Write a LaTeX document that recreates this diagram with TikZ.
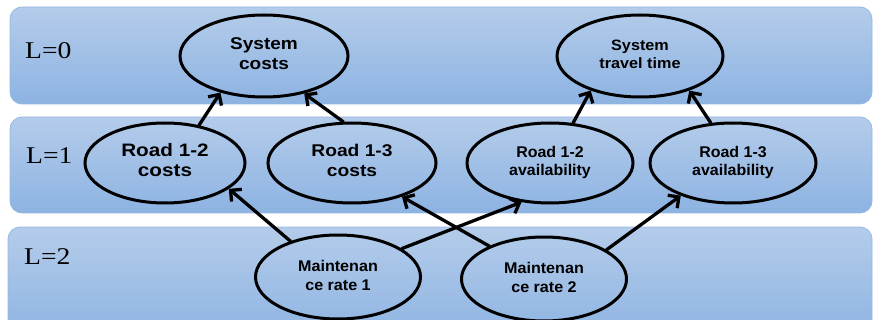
\documentclass[tikz,border=0pt]{standalone}
\usepackage{graphicx}
\usepackage{fontspec}
\setmainfont{Liberation Sans}
\newfontfamily\tnr{Liberation Serif}
\usetikzlibrary{arrows.meta}
\definecolor{bandtop}{RGB}{180,204,234}
\definecolor{bandbot}{RGB}{141,179,226}
\definecolor{bandedge}{RGB}{150,184,226}
\newcommand\twol[3]{\scalebox{#1}[1]{\begin{tabular}{@{}c@{}}#2\\#3\end{tabular}}}
\tikzset{
  band/.style={rounded corners=12pt, top color=bandtop, bottom color=bandbot, draw=bandedge, line width=0.8pt},
  ell/.style={ellipse, draw=black, line width=3pt, inner sep=0pt, fill=none},
  lvl/.style={anchor=base west, inner sep=0pt, font=\tnr\fontsize{24}{28}\selectfont},
  conn/.style={line width=3.3pt, -{Straight Barb[length=8pt,width=16pt,line width=3.3pt]}, line cap=round}
}
\usetikzlibrary{shapes.geometric}
\begin{document}
\begin{tikzpicture}[x=1pt,y=-1pt]
\useasboundingbox (0,0) rectangle (874,320);
% bands
\path[band] (10,7) rectangle (872,104);
\path[band] (10,117) rectangle (872,213);
\path[band] (8,227) rectangle (872,340);
% level labels
\node[lvl] (l0) at (25,59) {\scalebox{1.15}[1]{L=0}};
\node[lvl] (l1) at (26,164) {\scalebox{1.15}[1]{L=1}};
\node[lvl] (l2) at (24,264) {\scalebox{1.15}[1]{L=2}};
% nodes
\node[ell, minimum width=168pt, minimum height=82pt, font=\fontsize{17}{20}\selectfont\bfseries] (sc) at (264,56) {\twol{1.12}{System}{costs}};
\node[ell, minimum width=166pt, minimum height=82pt, font=\fontsize{15}{18}\selectfont\bfseries] (st) at (640,56) {\twol{1.08}{System}{travel time}};
\node[ell, minimum width=160pt, minimum height=80pt, font=\fontsize{18}{20}\selectfont\bfseries] (rc12) at (165,163) {\twol{1.15}{Road 1-2}{costs}};
\node[ell, minimum width=168pt, minimum height=80pt, font=\fontsize{17}{20}\selectfont\bfseries] (rc13) at (352,163) {\twol{1.13}{Road 1-3}{costs}};
\node[ell, minimum width=166pt, minimum height=80pt, font=\fontsize{15.5}{18}\selectfont\bfseries] (ra12) at (550,163) {\twol{1.03}{Road 1-2}{availability}};
\node[ell, minimum width=166pt, minimum height=80pt, font=\fontsize{15.5}{18}\selectfont\bfseries] (ra13) at (733,163) {\twol{1.03}{Road 1-3}{availability}};
\node[ell, minimum width=165pt, minimum height=84pt, font=\fontsize{15.5}{19}\selectfont\bfseries] (m1) at (338,277) {\twol{1.04}{Maintenan}{ce rate 1}};
\node[ell, minimum width=165pt, minimum height=84pt, font=\fontsize{15.5}{19}\selectfont\bfseries] (m2) at (544,279) {\twol{1.04}{Maintenan}{ce rate 2}};
% connectors
\draw[conn] (rc12.48) -- (sc.220);
\draw[conn] (rc13.102) -- (sc.317);
\draw[conn] (ra12.60) -- (st.215);
\draw[conn] (ra13.119) -- (st.325);
\draw[conn] (m1.143) -- (rc12.338);
\draw[conn] (m2.149) -- (rc13.326);
\draw[conn] (m1.24) -- (ra12.234);
\draw[conn] (m2.25) -- (ra13.212);
\end{tikzpicture}
\end{document}
